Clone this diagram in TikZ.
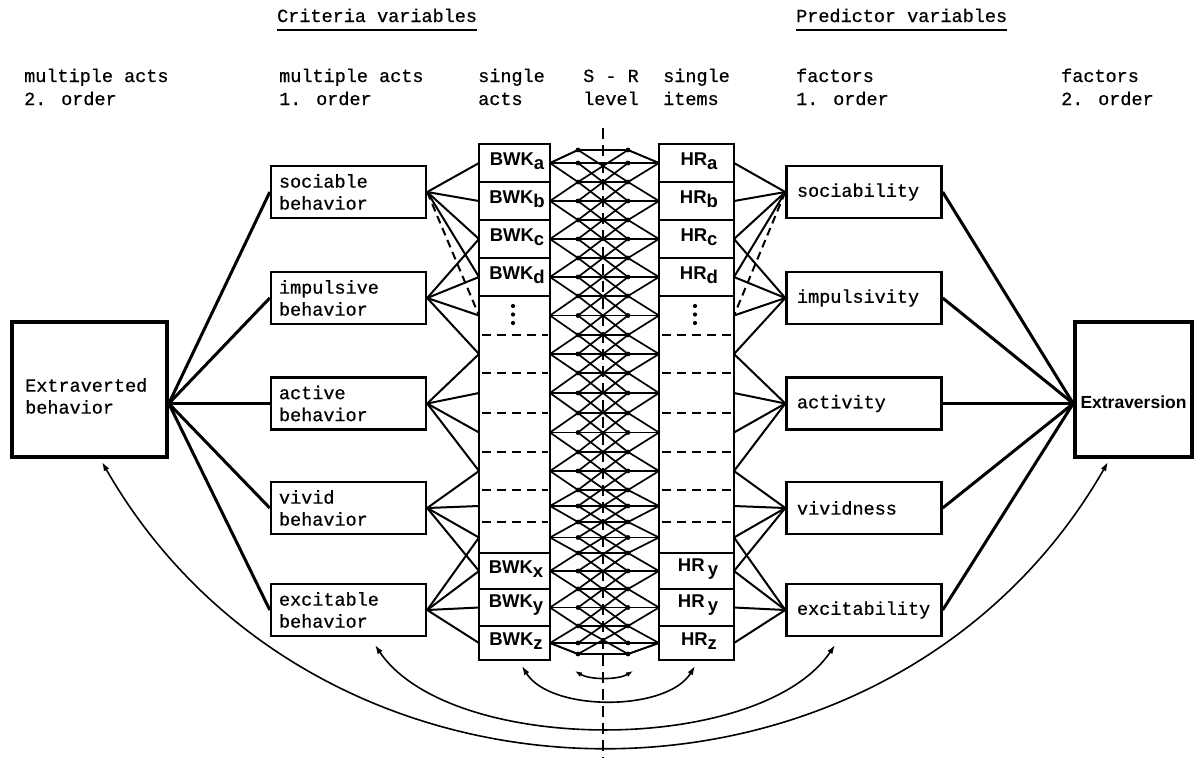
\documentclass[tikz,border=0pt]{standalone}
\usepackage{fontspec}
\setmainfont{Liberation Mono}
\newfontfamily\tw{Liberation Mono}[FakeBold=0.6]
\newfontfamily\sfb{Liberation Sans}
\usetikzlibrary{arrows.meta}
\newcommand\lowr[1]{\raisebox{-3.5pt}{#1}}
\tikzset{
  lbl/.style={font=\tw\fontsize{18.5}{22}\selectfont, inner sep=0pt},
  fbox/.style={draw, line width=2.4pt, minimum width=155pt, minimum height=52pt, inner sep=0pt,
               font=\tw\fontsize{18.5}{22}\selectfont, align=left},
  bigbox/.style={draw, line width=3.6pt, inner sep=0pt},
  colbox/.style={draw, line width=2.2pt, inner sep=0pt, minimum height=516pt},
  itemlbl/.style={font=\sfb\bfseries\fontsize{18.5}{20}\selectfont, inner sep=0pt},
  conn/.style={line width=2pt},
  conn2/.style={line width=3pt},
  latt/.style={line width=1.7pt, line join=round},
  ddash/.style={line width=2.2pt, dash pattern=on 9pt off 6pt},
  arc/.style={line width=1.6pt, {Latex[length=9pt,width=6pt]}-{Latex[length=9pt,width=6pt]}},
}
\begin{document}
\begin{tikzpicture}[x=1pt,y=-1pt]
\useasboundingbox (0,0) rectangle (1202,758);

% ---------- headers ----------
\node[lbl, anchor=base west] (hcrit) at (277,22) {Criteria variables};
\draw[line width=2.4pt] ([yshift=-8pt]hcrit.base west) -- ([yshift=-8pt]hcrit.base east);
\node[lbl, anchor=base west] (hpred) at (796,22) {Predictor variables};
\draw[line width=2.4pt] ([yshift=-8pt]hpred.base west) -- ([yshift=-8pt]hpred.base east);

\node[lbl, anchor=base west] (h1a) at (24,82) {multiple acts};
\node[lbl, anchor=base west] (h1b) at (24,105) {2. order};
\node[lbl, anchor=base west] (h2a) at (279,82) {multiple acts};
\node[lbl, anchor=base west] (h2b) at (279,105) {1. order};
\node[lbl, anchor=base west] (h3a) at (478,82) {single};
\node[lbl, anchor=base west] (h3b) at (478,105) {acts};
\node[lbl, anchor=base west] (h4a) at (583,82) {S - R};
\node[lbl, anchor=base west] (h4b) at (583,105) {level};
\node[lbl, anchor=base west] (h5a) at (663,82) {single};
\node[lbl, anchor=base west] (h5b) at (663,105) {items};
\node[lbl, anchor=base west] (h6a) at (796,82) {factors};
\node[lbl, anchor=base west] (h6b) at (796,105) {1. order};
\node[lbl, anchor=base west] (h7a) at (1061,82) {factors};
\node[lbl, anchor=base west] (h7b) at (1061,105) {2. order};

% ---------- coordinates of the lattice ----------
\foreach \j/\t in {0/150,1/163,2/182,3/201,4/220,5/239,6/258,7/277,8/296,9/315.5,10/335,
  11/354,12/373,13/393,14/413,15/432.5,16/452,17/471,18/490,19/506,20/522,21/537.5,
  22/553,23/571,24/589,25/607.5,26/626,27/643,28/654} {
  \coordinate (p\j) at (578,\t);
  \coordinate (q\j) at (628,\t);
}
\foreach \k/\t in {0/163,1/201,2/239,3/277,4/315.5,5/354,6/393,7/432.5,8/471,9/506,
  10/537.5,11/571,12/607.5,13/643} {
  \coordinate (L\k) at (550,\t);
  \coordinate (R\k) at (659,\t);
  \coordinate (BL\k) at (479,\t);
  \coordinate (HRR\k) at (734,\t);
}

% ---------- lattice ----------
\begin{scope}[latt]
\foreach \k in {0,...,13} \draw (L\k) -- (R\k);
\foreach \j in {0,2,...,28} \draw (p\j) -- (q\j);
\foreach \k in {0,...,11} {
  \pgfmathtruncatemacro\a{2*\k+2}
  \pgfmathtruncatemacro\b{2*\k+4}
  \pgfmathtruncatemacro\r{\k+2}
  \draw (L\k) -- (p\a) -- (q\b) -- (R\r);
}
\foreach \k in {2,...,13} {
  \pgfmathtruncatemacro\a{2*\k}
  \pgfmathtruncatemacro\b{2*\k-2}
  \pgfmathtruncatemacro\r{\k-2}
  \draw (L\k) -- (p\a) -- (q\b) -- (R\r);
}
\draw (L12) -- (p26) -- (q28) -- (R13);
\draw (L1) -- (p2) -- (q0) -- (R0);
\draw (R1) -- (q2) -- (p0) -- (L0);
\draw (R12) -- (q26) -- (p28) -- (L13);
\draw (L0) -- (p0); \draw (R0) -- (q0);
\draw (L13) -- (p28); \draw (R13) -- (q28);
\foreach \k in {0,...,12} {
  \pgfmathtruncatemacro\a{2*\k+1}
  \pgfmathtruncatemacro\b{2*\k+3}
  \draw (p\a) -- (q\b);
  \draw (p\b) -- (q\a);
}
\foreach \j in {0,...,28} {\fill (p\j) circle (2.4pt); \fill (q\j) circle (2.4pt);}
\end{scope}

% ---------- centre S-R line ----------
\coordinate (ctop) at (603,128);
\coordinate (cbot) at (603,758);
\draw[line width=2pt, dash pattern=on 11pt off 6pt] (ctop) -- (cbot);

% ---------- item columns ----------
\node[colbox, minimum width=71pt] (bwk) at (514.5,402) {};
\node[colbox, minimum width=75pt] (hr) at (696.5,402) {};
\foreach \y in {182,220,258,296,553,589,626} {
  \draw[line width=2pt] (479,\y) -- (550,\y);
  \draw[line width=2pt] (659,\y) -- (734,\y);
}
\foreach \y in {335,373,413,452,490,522} {
  \draw[ddash] (482,\y) -- (548,\y);
  \draw[ddash] (662,\y) -- (731,\y);
}
\node[itemlbl] (ba) at (517,161) {BWK\lowr{a}};
\node[itemlbl] (bb) at (517,199) {BWK\lowr{b}};
\node[itemlbl] (bc) at (517,237) {BWK\lowr{c}};
\node[itemlbl] (bd) at (517,275) {BWK\lowr{d}};
\node[itemlbl] (bx) at (516,569) {BWK\lowr{x}};
\node[itemlbl] (by) at (516,605) {BWK\lowr{y}};
\node[itemlbl] (bz) at (516,641) {BWK\lowr{z}};
\node[itemlbl] (ra) at (699,161) {HR\lowr{a}};
\node[itemlbl] (rb) at (699,199) {HR\lowr{b}};
\node[itemlbl] (rc) at (699,237) {HR\lowr{c}};
\node[itemlbl] (rd) at (699,275) {HR\lowr{d}};
\node[itemlbl] (rx) at (698,569) {HR\,\lowr{y}};
\node[itemlbl] (ry) at (698,605) {HR\,\lowr{y}};
\node[itemlbl] (rz) at (699,641) {HR\lowr{z}};
\foreach \y in {306,314.5,323} {\fill (513,\y) circle (2.1pt); \fill (695,\y) circle (2.1pt);}

% ---------- first-order boxes ----------
\node[fbox, text width=139pt] (soc) at (348.5,192) {sociable\\behavior};
\node[fbox, text width=139pt] (imp) at (348.5,298) {impulsive\\behavior};
\node[fbox, text width=139pt] (act) at (348.5,403.5) {active\\behavior};
\node[fbox, text width=139pt] (viv) at (348.5,508) {vivid\\behavior};
\node[fbox, text width=139pt] (exc) at (348.5,610) {excitable\\behavior};

\node[fbox, text width=134pt] (rsoc) at (864,192) {sociability};
\node[fbox, text width=134pt] (rimp) at (864,298) {impulsivity};
\node[fbox, text width=134pt] (ract) at (864,403.5) {activity};
\node[fbox, text width=134pt] (rviv) at (864,508) {vividness};
\node[fbox, text width=134pt] (rexc) at (864,610) {excitability};

% ---------- second-order boxes ----------
\node[bigbox, minimum width=155pt, minimum height=135pt] (ext) at (89.5,389.5) {};
\node[lbl, anchor=west, align=left] (extt) at (25,396) {Extraverted\\behavior};
\node[bigbox, minimum width=117pt, minimum height=135pt] (extv) at (1133.5,389.5) {};
\node[font=\sfb\bfseries\fontsize{17.5}{20}\selectfont, inner sep=0pt] (extvt) at (1133.5,402) {Extraversion};

% ---------- connectors: first order to items ----------
\foreach \k in {0,1,2,3} {\draw[conn] (soc.east) -- (BL\k); \draw[conn] (rsoc.west) -- (HRR\k);}
\draw[conn, dash pattern=on 8pt off 5pt] (soc.east) -- (BL4);
\draw[conn, dash pattern=on 8pt off 5pt] (rsoc.west) -- (HRR4);
\foreach \k in {2,...,5} {\draw[conn] (imp.east) -- (BL\k); \draw[conn] (rimp.west) -- (HRR\k);}
\foreach \k in {5,...,8} {\draw[conn] (act.east) -- (BL\k); \draw[conn] (ract.west) -- (HRR\k);}
\foreach \k in {8,...,11} {\draw[conn] (viv.east) -- (BL\k); \draw[conn] (rviv.west) -- (HRR\k);}
\foreach \k in {10,...,13} {\draw[conn] (exc.east) -- (BL\k); \draw[conn] (rexc.west) -- (HRR\k);}

% ---------- connectors: second order ----------
\coordinate (ej) at (ext.east |- act.west);
\coordinate (xj) at (extv.west |- ract.east);
\foreach \n in {soc,imp,act,viv,exc} \draw[conn2] (ej) -- (\n.west);
\foreach \n in {rsoc,rimp,ract,rviv,rexc} \draw[conn2] (\n.east) -- (xj);

% ---------- arcs ----------
\coordinate (a1l) at (522,666);
\coordinate (a1r) at (695,666);
\draw[arc] (a1l) .. controls (550,712) and (667,712) .. (a1r);
\coordinate (a0l) at (575,671);
\coordinate (a0r) at (633,671);
\draw[line width=1.6pt, {Latex[length=7pt,width=5pt]}-{Latex[length=7pt,width=5pt]}] (a0l) .. controls (590,680) and (618,680) .. (a0r);
\coordinate (a2l) at (375,645);
\coordinate (a2r) at (835,645);
\draw[arc] (a2l) .. controls (450,756) and (760,756) .. (a2r);
\coordinate (a3l) at (102,462);
\coordinate (a3r) at (1108,462);
\draw[arc] (a3l) .. controls (320,842) and (890,842) .. (a3r);
\end{tikzpicture}
\end{document}
